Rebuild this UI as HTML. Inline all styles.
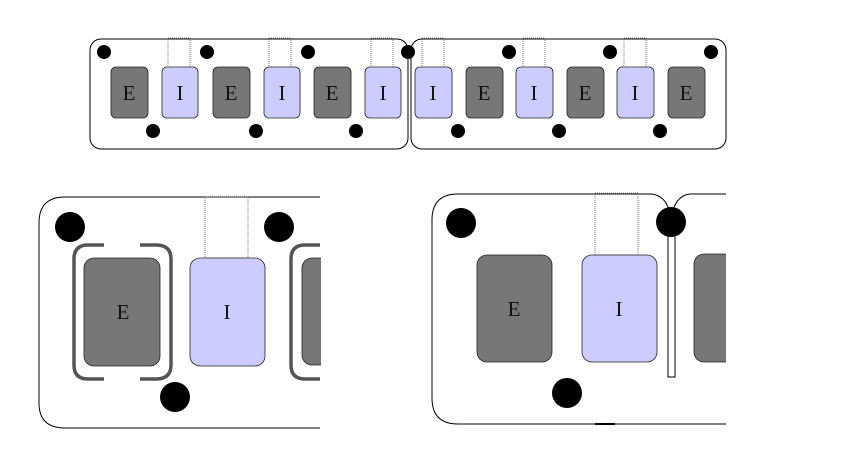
<!DOCTYPE html>
<html><head><style>body{margin:0;background:#fff}svg{display:block}</style></head><body>
<svg width="850" height="475" viewBox="0 0 850 475" xmlns="http://www.w3.org/2000/svg" font-family="Liberation Serif, serif">
<g stroke="#000" stroke-width="1" fill="none">
<rect x="90" y="39" width="318" height="110" rx="11"/>
<rect x="411" y="39" width="315" height="110" rx="11"/>
</g>
<!-- top blocks -->
<g stroke="#222" stroke-width="0.8">
<g fill="#777">
<rect x="111" y="67" width="37" height="51" rx="5"/>
<rect x="213" y="67" width="37" height="51" rx="5"/>
<rect x="314" y="67" width="37" height="51" rx="5"/>
<rect x="466" y="67" width="37" height="51" rx="5"/>
<rect x="567" y="67" width="37" height="51" rx="5"/>
<rect x="668" y="67" width="37" height="51" rx="5"/>
</g>
<g fill="#ccccff">
<rect x="162" y="67" width="36" height="51" rx="5"/>
<rect x="264" y="67" width="36" height="51" rx="5"/>
<rect x="365" y="67" width="36" height="51" rx="5"/>
<rect x="415" y="67" width="37" height="51" rx="5"/>
<rect x="516" y="67" width="37" height="51" rx="5"/>
<rect x="617" y="67" width="37" height="51" rx="5"/>
</g>
</g>
<g stroke="#555" stroke-width="0.8" stroke-dasharray="1,1" fill="none">
<rect x="168" y="38" width="22" height="29"/>
<rect x="269" y="38" width="22" height="29"/>
<rect x="371" y="38" width="22" height="29"/>
<rect x="422" y="38" width="22" height="29"/>
<rect x="523" y="38" width="22" height="29"/>
<rect x="624" y="38" width="22" height="29"/>
</g>
<g font-size="21" text-anchor="middle" fill="#111">
<text x="129" y="100">E</text><text x="180" y="100">I</text>
<text x="231" y="100">E</text><text x="282" y="100">I</text>
<text x="332" y="100">E</text><text x="383" y="100">I</text>
<text x="433" y="100">I</text><text x="484" y="100">E</text>
<text x="534" y="100">I</text><text x="585" y="100">E</text>
<text x="635" y="100">I</text><text x="686" y="100">E</text>
</g>
<g fill="#000">
<circle cx="104" cy="52" r="7"/><circle cx="207" cy="52" r="7"/><circle cx="308" cy="52" r="7"/><circle cx="408" cy="52" r="7"/>
<circle cx="509" cy="52" r="7"/><circle cx="610" cy="52" r="7"/><circle cx="711" cy="52" r="7"/>
<circle cx="153" cy="131" r="7"/><circle cx="256" cy="131" r="7"/><circle cx="356" cy="131" r="7"/>
<circle cx="458" cy="131" r="7"/><circle cx="559" cy="131" r="7"/><circle cx="660" cy="131" r="7"/>
</g>

<!-- bottom left -->
<path d="M320 197 H65 Q39 197 39 223 V403 Q39 428 65 428 H320" fill="none" stroke="#000" stroke-width="1"/>
<rect x="205" y="197" width="43" height="61" fill="none" stroke="#555" stroke-dasharray="1,1" stroke-width="0.8"/>
<g fill="none" stroke="#555" stroke-width="3.5">
<path d="M104 245 H88 Q74 245 74 259 V365 Q74 379 88 379 H104"/>
<path d="M140 245 H156 Q171 245 171 259 V365 Q171 379 156 379 H140"/>
<path d="M320 245 H305 Q291 245 291 259 V365 Q291 379 305 379 H320"/>
</g>
<rect x="84" y="258" width="76" height="108" rx="10" fill="#777" stroke="#222" stroke-width="0.8"/>
<rect x="190" y="258" width="75" height="108" rx="10" fill="#ccccff" stroke="#222" stroke-width="0.8"/>
<rect x="302" y="258" width="30" height="107" rx="10" fill="#777" stroke="#222" stroke-width="0.8"/>
<rect x="321" y="190" width="30" height="240" fill="#fff"/>
<text x="123" y="319" font-size="21" text-anchor="middle" fill="#111">E</text>
<text x="227" y="319" font-size="21" text-anchor="middle" fill="#111">I</text>
<circle cx="70" cy="227" r="15"/><circle cx="279" cy="227" r="15"/><circle cx="175" cy="397" r="15"/>

<!-- bottom right -->
<path d="M652 194 H458 Q432 194 432 220 V398 Q432 424 458 424 H726" fill="none" stroke="#000" stroke-width="1"/>
<path d="M652 194 Q665 196 669 210" fill="none" stroke="#000"/>
<path d="M673 210 Q678 195 690 194 H726" fill="none" stroke="#000"/>
<line x1="595" y1="424" x2="615" y2="424" stroke="#000" stroke-width="2"/>
<rect x="595" y="193" width="43" height="62" fill="none" stroke="#555" stroke-dasharray="1,1" stroke-width="0.8"/>
<rect x="477" y="255" width="75" height="107" rx="10" fill="#777" stroke="#222" stroke-width="0.8"/>
<rect x="582" y="255" width="75" height="107" rx="10" fill="#ccccff" stroke="#222" stroke-width="0.8"/>
<rect x="694" y="254" width="40" height="108" rx="10" fill="#777" stroke="#222" stroke-width="0.8"/>
<rect x="726" y="190" width="40" height="240" fill="#fff"/>
<rect x="668" y="225" width="7" height="152" fill="#fff" stroke="#000" stroke-width="1"/>
<text x="514" y="316" font-size="21" text-anchor="middle" fill="#111">E</text>
<text x="619" y="316" font-size="21" text-anchor="middle" fill="#111">I</text>
<circle cx="671" cy="222" r="15"/><circle cx="461" cy="223" r="15"/><circle cx="567" cy="393" r="15"/>
</svg>
</body></html>
